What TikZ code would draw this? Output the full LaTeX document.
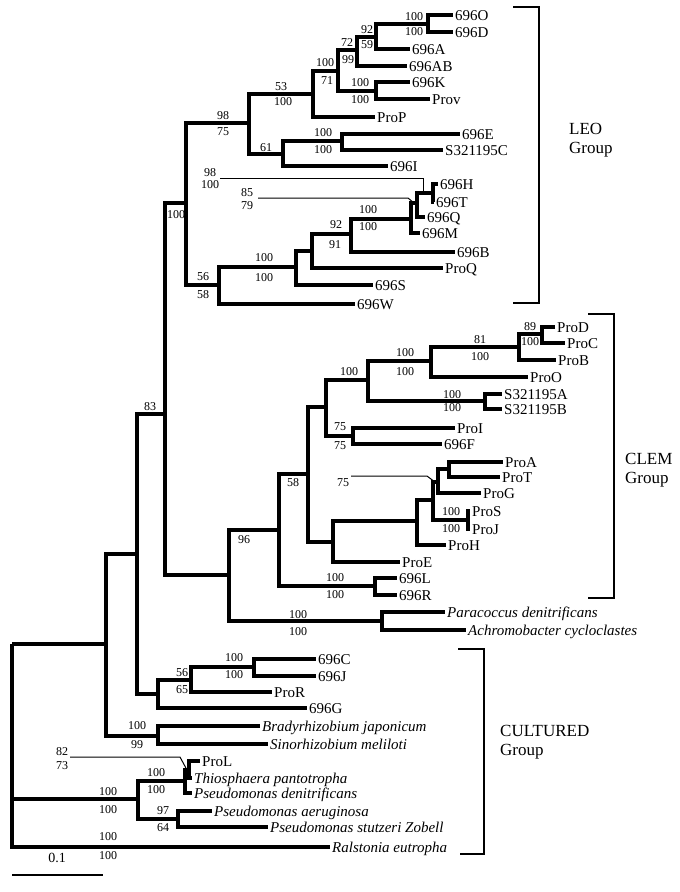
\documentclass[tikz,border=0pt]{standalone}
\usepackage{fontspec}
\setmainfont{Liberation Serif}
\tikzset{
  limb/.style={line width=3.2pt},
  leader/.style={line width=1pt},
  clade/.style={line width=1.6pt},
  leaf/.style={anchor=west, inner sep=2pt, text height=10pt, text depth=0pt, font=\fontsize{15}{17}\selectfont},
  spec/.style={leaf, font=\fontsize{15}{17}\selectfont\itshape},
  boot/.style={inner sep=0pt, font=\fontsize{12}{13}\selectfont},
  grp/.style={anchor=west, align=left, inner sep=0pt, font=\fontsize{17}{19}\selectfont},
}
\begin{document}
\begin{tikzpicture}[x=1pt,y=1pt,yscale=-1,xscale=1]
\useasboundingbox (0,0) rectangle (680,892);

%Internal nodes: backbone
\coordinate (r) at (12,644);
\coordinate (cA) at (106,644);
\coordinate (cB) at (137,554);
\coordinate (cC) at (165,414);
%Internal nodes: LEO
\coordinate (leo) at (186,203);
\coordinate (l1) at (249,123);
\coordinate (l2) at (313,94);
\coordinate (l3) at (338,71);
\coordinate (l4) at (357,50);
\coordinate (l5) at (376,37);
\coordinate (l6) at (428,24);
\coordinate (l7) at (376,91);
\coordinate (l8) at (283,154);
\coordinate (l9) at (342,141);
\coordinate (l10) at (219,285);
\coordinate (l11) at (296,267);
\coordinate (l12) at (312,251);
\coordinate (l13) at (351,234);
\coordinate (l14) at (411,219);
\coordinate (l15) at (417,203);
\coordinate (l16) at (433,193);
%Internal nodes: CLEM
\coordinate (cD) at (229,575);
\coordinate (cE) at (279,530);
\coordinate (cF) at (308,474);
\coordinate (cG) at (326,407);
\coordinate (cH) at (368,380);
\coordinate (cI) at (431,361);
\coordinate (cJ) at (519,347);
\coordinate (cK) at (542,334);
\coordinate (cL) at (485,401);
\coordinate (cM) at (353,436);
\coordinate (cN) at (333,542);
\coordinate (cO) at (417,521);
\coordinate (cP) at (433,500);
\coordinate (cQ) at (438,482);
\coordinate (cR) at (449,469);
\coordinate (cS) at (468,520);
\coordinate (cT) at (375,586);
\coordinate (cU) at (382,621);
%Internal nodes: cultured
\coordinate (cV) at (158,694);
\coordinate (cW) at (191,680);
\coordinate (cX) at (254,667);
\coordinate (cY) at (158,736);
\coordinate (cZ) at (138,799);
\coordinate (d1) at (185,781);
\coordinate (d2) at (189,770);
\coordinate (d3) at (178,819);

% Leaf nodes
\node[leaf] (t696O) at (453,15) {696O};
\node[leaf] (t696D) at (453,32) {696D};
\node[leaf] (t696A) at (410,49) {696A};
\node[leaf] (t696AB) at (407,66) {696AB};
\node[leaf] (t696K) at (410,82) {696K};
\node[leaf] (tProv) at (430,99) {Prov};
\node[leaf] (tProP) at (375,117) {ProP};
\node[leaf] (t696E) at (460,134) {696E};
\node[leaf] (tS321195C) at (443,150) {S321195C};
\node[leaf] (t696I) at (388,166) {696I};
\node[leaf] (t696H) at (438,184) {696H};
\node[leaf] (t696T) at (434,202) {696T};
\node[leaf] (t696Q) at (425,217) {696Q};
\node[leaf] (t696M) at (420,233) {696M};
\node[leaf] (t696B) at (455,252) {696B};
\node[leaf] (tProQ) at (443,268) {ProQ};
\node[leaf] (t696S) at (373,285) {696S};
\node[leaf] (t696W) at (355,304) {696W};
\node[leaf] (tProD) at (555,327) {ProD};
\node[leaf] (tProC) at (565,343) {ProC};
\node[leaf] (tProB) at (556,360) {ProB};
\node[leaf] (tProO) at (528,377) {ProO};
\node[leaf] (tS321195A) at (502,394) {S321195A};
\node[leaf] (tS321195B) at (502,409) {S321195B};
\node[leaf] (tProI) at (455,428) {ProI};
\node[leaf] (t696F) at (442,444) {696F};
\node[leaf] (tProA) at (503,462) {ProA};
\node[leaf] (tProT) at (500,477) {ProT};
\node[leaf] (tProG) at (481,493) {ProG};
\node[leaf] (tProS) at (470,511) {ProS};
\node[leaf] (tProJ) at (470,529) {ProJ};
\node[leaf] (tProH) at (446,545) {ProH};
\node[leaf] (tProE) at (400,562) {ProE};
\node[leaf] (t696L) at (397,578) {696L};
\node[leaf] (t696R) at (397,595) {696R};
\node[spec] (tPara) at (445,612) {Paracoccus denitrificans};
\node[spec] (tAchro) at (466,630) {Achromobacter cycloclastes};
\node[leaf] (t696C) at (316,659) {696C};
\node[leaf] (t696J) at (316,676) {696J};
\node[leaf] (tProR) at (272,692) {ProR};
\node[leaf] (t696G) at (307,708) {696G};
\node[spec] (tBrady) at (260,726) {Bradyrhizobium japonicum};
\node[spec] (tSino) at (268,744) {Sinorhizobium meliloti};
\node[leaf] (tProL) at (200,761) {ProL};
\node[spec] (tThio) at (192,778) {Thiosphaera pantotropha};
\node[spec] (tPden) at (192,793) {Pseudomonas denitrificans};
\node[spec] (tPaer) at (212,811) {Pseudomonas aeruginosa};
\node[spec] (tPstu) at (268,827) {Pseudomonas stutzeri Zobell};
\node[spec] (tRal) at (330,847) {Ralstonia eutropha};

%Branches: backbone
\draw[limb] (r) -- (cA);
\draw[limb] (r) |- (cZ);
\draw[limb] (r) |- (tRal.west);
\draw[limb] (cA) |- (cB);
\draw[limb] (cA) |- (cY);
\draw[limb] (cB) |- (cC);
\draw[limb] (cB) |- (cV);
\draw[limb] (cC) |- (leo);
\draw[limb] (cC) |- (cD);
%Branches: LEO
\draw[limb] (leo) |- (l1);
\draw[limb] (leo) |- (l10);
\draw[limb] (l1) |- (l2);
\draw[limb] (l1) |- (l8);
\draw[limb] (l2) |- (l3);
\draw[limb] (l2) |- (tProP.west);
\draw[limb] (l3) |- (l4);
\draw[limb] (l3) |- (l7);
\draw[limb] (l4) |- (l5);
\draw[limb] (l4) |- (t696AB.west);
\draw[limb] (l5) |- (l6);
\draw[limb] (l5) |- (t696A.west);
\draw[limb] (l6) |- (t696O.west);
\draw[limb] (l6) |- (t696D.west);
\draw[limb] (l7) |- (t696K.west);
\draw[limb] (l7) |- (tProv.west);
\draw[limb] (l8) |- (l9);
\draw[limb] (l8) |- (t696I.west);
\draw[limb] (l9) |- (t696E.west);
\draw[limb] (l9) |- (tS321195C.west);
\draw[limb] (l10) |- (l11);
\draw[limb] (l10) |- (t696W.west);
\draw[limb] (l11) |- (l12);
\draw[limb] (l11) |- (t696S.west);
\draw[limb] (l12) |- (l13);
\draw[limb] (l12) |- (tProQ.west);
\draw[limb] (l13) |- (l14);
\draw[limb] (l13) |- (t696B.west);
\draw[limb] (l14) |- (l15);
\draw[limb] (l14) |- (t696M.west);
\draw[limb] (l15) |- (l16);
\draw[limb] (l15) |- (t696Q.west);
\draw[limb] (l16) |- (t696H.west);
\draw[limb] (l16) |- (t696T.west);
%Branches: CLEM
\draw[limb] (cD) |- (cE);
\draw[limb] (cD) |- (cU);
\draw[limb] (cE) |- (cF);
\draw[limb] (cE) |- (cT);
\draw[limb] (cF) |- (cG);
\draw[limb] (cF) |- (cN);
\draw[limb] (cG) |- (cH);
\draw[limb] (cG) |- (cM);
\draw[limb] (cH) |- (cI);
\draw[limb] (cH) |- (cL);
\draw[limb] (cI) |- (cJ);
\draw[limb] (cI) |- (tProO.west);
\draw[limb] (cJ) |- (cK);
\draw[limb] (cJ) |- (tProB.west);
\draw[limb] (cK) |- (tProD.west);
\draw[limb] (cK) |- (tProC.west);
\draw[limb] (cL) |- (tS321195A.west);
\draw[limb] (cL) |- (tS321195B.west);
\draw[limb] (cM) |- (tProI.west);
\draw[limb] (cM) |- (t696F.west);
\draw[limb] (cN) |- (cO);
\draw[limb] (cN) |- (tProE.west);
\draw[limb] (cO) |- (cP);
\draw[limb] (cO) |- (tProH.west);
\draw[limb] (cP) |- (cQ);
\draw[limb] (cP) |- (cS);
\draw[limb] (cQ) |- (cR);
\draw[limb] (cQ) |- (tProG.west);
\draw[limb] (cR) |- (tProA.west);
\draw[limb] (cR) |- (tProT.west);
\draw[limb] (cS) |- (tProS.west);
\draw[limb] (cS) |- (tProJ.west);
\draw[limb] (cT) |- (t696L.west);
\draw[limb] (cT) |- (t696R.west);
\draw[limb] (cU) |- (tPara.west);
\draw[limb] (cU) |- (tAchro.west);
%Branches: cultured
\draw[limb] (cV) |- (cW);
\draw[limb] (cV) |- (t696G.west);
\draw[limb] (cW) |- (cX);
\draw[limb] (cW) |- (tProR.west);
\draw[limb] (cX) |- (t696C.west);
\draw[limb] (cX) |- (t696J.west);
\draw[limb] (cY) |- (tBrady.west);
\draw[limb] (cY) |- (tSino.west);
\draw[limb] (cZ) |- (d1);
\draw[limb] (cZ) |- (d3);
\draw[limb] (d1) |- (d2);
\draw[limb] (d1) |- (tPden.west);
\draw[limb] (d2) |- (tProL.west);
\draw[limb] (d2) |- (tThio.west);
\draw[limb] (d3) |- (tPaer.west);
\draw[limb] (d3) |- (tPstu.west);

% Text Node: bootstrap values
\node[boot] (b01) at (150,407) {83};
\node[boot] (b02) at (176,215) {100};
\node[boot] (b03) at (223,116) {98};
\node[boot] (b04) at (223,132) {75};
\node[boot] (b05) at (281,87) {53};
\node[boot] (b06) at (283,102) {100};
\node[boot] (b07) at (325,63) {100};
\node[boot] (b08) at (327,81) {71};
\node[boot] (b09) at (347,43) {72};
\node[boot] (b10) at (348,60) {99};
\node[boot] (b11) at (367,30) {92};
\node[boot] (b12) at (367,45) {59};
\node[boot] (b13) at (414,17) {100};
\node[boot] (b14) at (414,32) {100};
\node[boot] (b15) at (360,83) {100};
\node[boot] (b16) at (360,100) {100};
\node[boot] (b17) at (266,148) {61};
\node[boot] (b18) at (323,133) {100};
\node[boot] (b19) at (323,150) {100};
\node[boot] (b20) at (203,277) {56};
\node[boot] (b21) at (203,295) {58};
\node[boot] (b22) at (264,258) {100};
\node[boot] (b23) at (264,278) {100};
\node[boot] (b24) at (336,225) {92};
\node[boot] (b25) at (335,245) {91};
\node[boot] (b26) at (368,210) {100};
\node[boot] (b27) at (368,227) {100};
\node[boot] (b28) at (210,173) {98};
\node[boot] (b29) at (210,185) {100};
\node[boot] (b30) at (247,193) {85};
\node[boot] (b31) at (247,206) {79};
\node[boot] (b32) at (244,540) {96};
\node[boot] (b33) at (293,483) {58};
\node[boot] (b34) at (349,372) {100};
\node[boot] (b35) at (405,353) {100};
\node[boot] (b36) at (405,372) {100};
\node[boot] (b37) at (480,340) {81};
\node[boot] (b38) at (480,357) {100};
\node[boot] (b39) at (530,327) {89};
\node[boot] (b40) at (530,342) {100};
\node[boot] (b41) at (452,395) {100};
\node[boot] (b42) at (452,408) {100};
\node[boot] (b43) at (340,427) {75};
\node[boot] (b44) at (340,446) {75};
\node[boot] (b45) at (343,483) {75};
\node[boot] (b46) at (451,512) {100};
\node[boot] (b47) at (451,529) {100};
\node[boot] (b48) at (335,578) {100};
\node[boot] (b49) at (335,595) {100};
\node[boot] (b50) at (298,615) {100};
\node[boot] (b51) at (298,632) {100};
\node[boot] (b52) at (182,673) {56};
\node[boot] (b53) at (182,690) {65};
\node[boot] (b54) at (234,658) {100};
\node[boot] (b55) at (234,675) {100};
\node[boot] (b56) at (137,726) {100};
\node[boot] (b57) at (137,745) {99};
\node[boot] (b58) at (62,752) {82};
\node[boot] (b59) at (62,766) {73};
\node[boot] (b60) at (156,773) {100};
\node[boot] (b61) at (156,790) {100};
\node[boot] (b62) at (108,792) {100};
\node[boot] (b63) at (108,810) {100};
\node[boot] (b64) at (163,811) {97};
\node[boot] (b65) at (163,828) {64};
\node[boot] (b66) at (108,837) {100};
\node[boot] (b67) at (108,856) {100};

%Straight Lines: leaders to short branches
\coordinate (k1) at (423,193);
\coordinate (k2) at (414,203);
\coordinate (k3) at (435,482);
\coordinate (k4) at (187,770);
\draw[leader] (220,178) -- (423,178) -- (k1);
\draw[leader] (258,198) -- (408,198) -- (k2);
\draw[leader] (351,476) -- (427,476) -- (k3);
\draw[leader] (70,757) -- (180,757) -- (k4);

%Shape: group brackets
\draw[clade] (513,7) -- (539,7) -- (539,303) -- (513,303);
\draw[clade] (588,314) -- (614,314) -- (614,598) -- (588,598);
\draw[clade] (458,649) -- (484,649) -- (484,854) -- (460,854);
% Text Node
\node[grp] (gLEO) at (569,140.5) {LEO\\Group};
% Text Node
\node[grp] (gCLEM) at (625,470) {CLEM\\Group};
% Text Node
\node[grp] (gCULT) at (500,742) {CULTURED\\Group};

%Straight Lines: scale bar
\coordinate (s1) at (12,875);
\coordinate (s2) at (103,875);
\draw[line width=1.4pt] (s1) -- (s2);
% Text Node
\node[inner sep=0pt, font=\fontsize{14}{16}\selectfont] (sLab) at (57,858) {0.1};

\end{tikzpicture}
\end{document}
